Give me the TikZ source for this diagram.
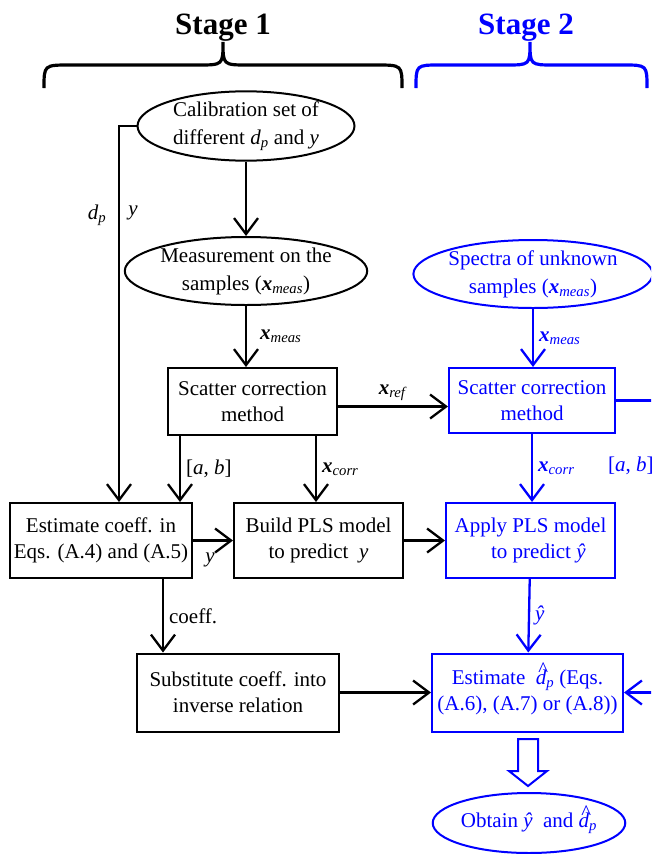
\documentclass[tikz,border=0pt]{standalone}
\usepackage{fontspec}
\setmainfont{Liberation Serif}
\usetikzlibrary{arrows.meta,shapes.geometric}

% symbols used in the labels
\newcommand\xb[1]{\textbf{\textit{x}}\textsubscript{\textit{#1}}}
\newcommand\dpl{\textit{d}\textsubscript{\textit{p}}}
\newcommand\yh{\textit{\^{y}}}
\newcommand\dph{\textit{\ooalign{d\cr\hidewidth\kern0.12em\raisebox{0.38em}{\^{}}\hidewidth\cr}}\textsubscript{\textit{p}}}

\tikzset{
  every node/.style={font=\fontsize{21}{26}\selectfont},
  box/.style={draw, line width=2pt, align=center, inner sep=0pt},
  oval/.style={draw, ellipse, line width=2pt, align=center, inner sep=0pt,
    minimum width=217pt, minimum height=68pt, font=\fontsize{21}{28}\selectfont},
  arr/.style={line width=2.3pt, -{Straight Barb[length=16pt,width=24pt,line width=2.3pt]}},
  lbl/.style={inner sep=5pt},
  brace/.style={line width=3.2pt},
  title/.style={font=\fontsize{31}{36}\selectfont\bfseries, anchor=base}
}

\begin{document}
\begin{tikzpicture}[x=1pt,y=-1pt]
\useasboundingbox (0,0) rectangle (651,854);
\clip (0,0) rectangle (651,854);

% stage titles
\node[title] (st1) at (223,34) {Stage 1};
\node[title,blue] (st2) at (526,34) {Stage 2};

% braces
\draw[brace] (44,88) .. controls (44,65) .. (70,65) -- (198,65)
  .. controls (223,65) .. (223,42) .. controls (223,65) .. (248,65)
  -- (376,65) .. controls (402,65) .. (402,88);
\draw[brace,blue] (416,88) .. controls (416,65) .. (440,65) -- (506,65)
  .. controls (530,65) .. (530,42) .. controls (530,65) .. (554,65)
  -- (623,65) .. controls (647,65) .. (647,88);

% stage 1 nodes
\node[oval] (cal) at (246,126) {Calibration set of\\different \dpl{} and \textit{y}};
\node[oval] (meas) at (246,271) {Measurement on the\\samples (\xb{meas})};
\node[box,minimum width=169pt,minimum height=67pt] (sc1) at (252.5,401.5) {Scatter correction\\method};
\node[box,minimum width=182pt,minimum height=75pt] (est) at (101,540.5) {Estimate coeff. in\\Eqs. (A.4) and (A.5)};
\node[box,minimum width=169pt,minimum height=75pt] (pls) at (318.5,540.5) {Build PLS model\\to predict\ \ \textit{y}};
\node[box,minimum width=202pt,minimum height=78pt] (sub) at (238,692.5) {Substitute coeff. into\\inverse relation};

% stage 2 nodes
\node[oval,blue] (spec) at (533,274) {Spectra of unknown\\samples (\xb{meas})};
\node[box,blue,minimum width=166pt,minimum height=65pt] (sc2) at (532,400.5) {Scatter correction\\method};
\node[box,blue,minimum width=169pt,minimum height=75pt] (app) at (530.5,540.5) {Apply PLS model\\\ \ \ to predict\ \yh};
\node[box,blue,minimum width=191pt,minimum height=78pt] (edp) at (527.5,692.5) {Estimate\ \ \dph{} (Eqs.\\(A.6), (A.7) or (A.8))};
\node[oval,blue,minimum width=172pt,minimum height=60pt] (obt) at (529,823) {Obtain \yh\ \ and \dph};

% helper columns
\coordinate (lft) at (119,0);
\coordinate (ab) at (180,0);
\coordinate (xc) at (316,0);
\coordinate (cf) at (163,0);

% stage 1 connectors
\draw[arr] (cal.west) -- (cal.west -| lft) -- (est.north -| lft);
\node[lbl] (ldp) at (97,215) {\dpl};
\node[lbl] (ly) at (133,213) {\textit{y}};
\draw[arr] (cal) -- (meas);
\draw[arr] (meas.south) -- node[lbl,right,xshift=8pt] {\xb{meas}} (meas.south |- sc1.north);
\draw[arr] ([yshift=-5pt]sc1.east) -- node[lbl,above] {\xb{ref}} ([yshift=-5pt]sc1.east -| sc2.west);
\draw[arr] (sc1.south -| ab) -- node[lbl,right] {[\textit{a}, \textit{b}]} (est.north -| ab);
\draw[arr] (sc1.south -| xc) -- node[lbl,right] {\xb{corr}} (pls.north -| xc);
\draw[arr] (est) -- node[lbl,below,xshift=-3pt,yshift=-6pt] {\textit{y}} (pls);
\draw[arr] (pls) -- (app);
\draw[arr] (est.south -| cf) -- node[lbl,right] {coeff.} (sub.north -| cf);
\draw[arr] (sub) -- (edp);

% stage 2 connectors
\draw[arr,blue] (spec.south) -- node[lbl,right] {\xb{meas}} (spec.south |- sc2.north);
\draw[arr,blue] (sc2.south) -- node[lbl,right] {\xb{corr}} (sc2.south |- app.north);
\draw[arr,blue] (app) -- node[lbl,right] {\yh} (edp);
\draw[arr,blue] (sc2.east) -- ++(50,0) |- (edp.east);
\node[lbl,blue,anchor=west] (lab2) at (603,466) {[\textit{a}, \textit{b}]};

% hollow arrow
\draw[blue,line width=2pt] (518,739) -- (538,739) -- (538,771) -- (547,771)
  -- (528,786) -- (509,771) -- (518,771) -- cycle;

\end{tikzpicture}
\end{document}
